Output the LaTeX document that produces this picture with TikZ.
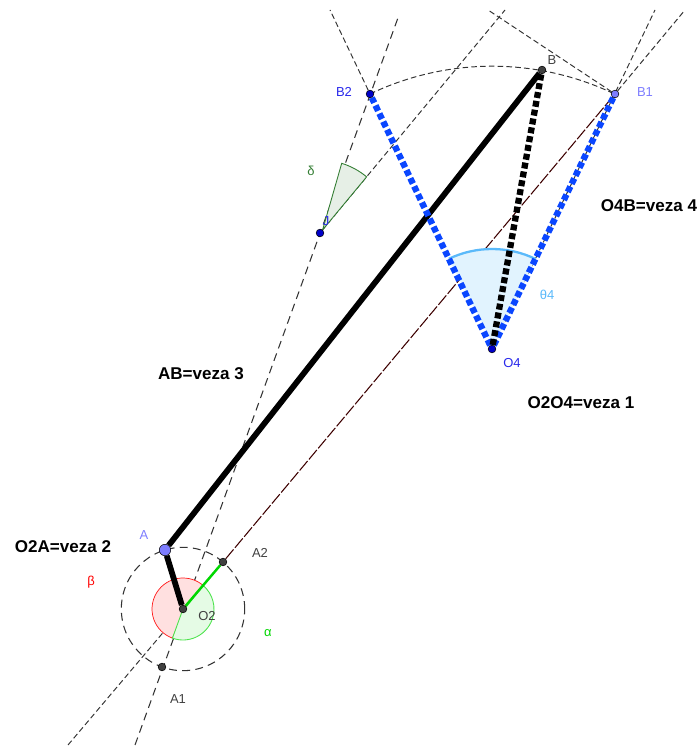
\documentclass[tikz,border=0pt]{standalone}
\usepackage{fontspec}
\setmainfont{Liberation Sans}
\usetikzlibrary{backgrounds}
\definecolor{ptgrey}{RGB}{64,64,64}
\definecolor{ptblue}{RGB}{0,0,200}
\definecolor{lblblue}{RGB}{40,40,235}
\definecolor{ptviolet}{RGB}{125,125,255}
\definecolor{barblue}{RGB}{10,70,255}
\definecolor{thetablue}{RGB}{90,185,250}
\definecolor{deltagreen}{RGB}{50,125,50}
\definecolor{alphagreen}{RGB}{0,215,0}
\tikzset{
  pt/.style={circle,draw=black,line width=0.3pt,fill=#1,inner sep=0pt,minimum size=4.4pt},
  lbl/.style={font=\fontsize{7.4}{8}\selectfont,inner sep=0pt,text=#1},
  veza/.style={font=\fontsize{9.7}{11}\bfseries\selectfont,inner sep=0pt},
  guide/.style={draw=black!80,line width=0.55pt,dash pattern=on 3.2pt off 1.8pt},
  longguide/.style={draw=black!80,line width=0.6pt,dash pattern=on 4.5pt off 3pt},
  barthick/.style={draw=black,line width=3.3pt},
  bardot/.style={draw=#1,line width=3.6pt,dash pattern=on 3.4pt off 1.7pt}
}
\begin{document}
\begin{tikzpicture}[x=0.02cm,y=0.02cm]
\useasboundingbox (0,0) rectangle (699,749);

\node[pt=ptgrey] (O2) at (183,140) {};
\node[pt=ptviolet,minimum size=6.5pt] (A) at (165,199) {};
\node[pt=ptgrey] (A1) at (162,82) {};
\node[pt=ptgrey] (A2) at (223,187) {};
\node[pt=ptgrey] (B) at (542,679) {};
\node[pt=ptviolet] (B1) at (615,655) {};
\node[pt=ptblue] (B2) at (370,655) {};
\node[pt=ptblue] (O4) at (492,400) {};
\node[pt=ptblue] (J) at (320,516) {};

\coordinate (A1end) at (135,4);
\coordinate (B2up) at (399,734);
\coordinate (O2end) at (68,4);
\coordinate (B1up) at (685,739);
\coordinate (O4up) at (655,739);
\coordinate (B2left) at (330,739);
\coordinate (Jup) at (505,739);
\coordinate (B1left) at (488,739);

\node[lbl=ptviolet] (lA) at (144,214) {A};
\node[lbl=ptgrey] (lB) at (552,689) {B};
\node[lbl=ptviolet] (lB1) at (645,657) {B1};
\node[lbl=lblblue] (lB2) at (344,657) {B2};
\node[lbl=lblblue] (lJ) at (326,528) {J};
\node[lbl=lblblue] (lO4) at (512,386) {O4};
\node[lbl=ptgrey] (lO2) at (207,133) {O2};
\node[lbl=ptgrey] (lA1) at (178,50) {A1};
\node[lbl=ptgrey] (lA2) at (260,196) {A2};
\node[lbl=red] (lbeta) at (91,167) {β};
\node[lbl=alphagreen] (lalpha) at (268,116) {α};
\node[lbl=deltagreen] (ldelta) at (311,578) {δ};
\node[lbl=thetablue] (ltheta) at (547,454) {θ4};

\node[veza] (v1) at (581,346) {O2O4=veza 1};
\node[veza] (v2) at (63,202) {O2A=veza 2};
\node[veza] (v3) at (201,375) {AB=veza 3};
\node[veza] (v4) at (649,543) {O4B=veza 4};

\begin{scope}[on background layer]
\draw[longguide] (A1end) -- (B2up);
\draw[guide] (O2end) -- (O2);
\draw[guide] (B1) -- (B1up);
\draw[guide] (O4) -- (O4up);
\draw[guide] (B2) -- (B2left);
\draw[guide] (J) -- (Jup);
\draw[guide] (B1) -- (B1left);
\draw[guide] (B2) arc[start angle=115.6,end angle=64.2,radius=5.66cm];
\draw[longguide] (O2) ++(0:1.234cm) arc[start angle=0,end angle=360,radius=1.234cm];
\draw[draw=black!70!red!80!black,line width=0.6pt,dash pattern=on 7pt off 1.2pt] (A2) -- (B1);

\filldraw[draw=red!90,line width=0.4pt,fill=red!12] (O2) -- ++(49.6:0.62cm) arc[start angle=49.6,end angle=250.1,radius=0.62cm] -- cycle;
\filldraw[draw=alphagreen!70,line width=0.5pt,fill=alphagreen!10] (O2) -- ++(-109.9:0.62cm) arc[start angle=-109.9,end angle=49.6,radius=0.62cm] -- cycle;
\filldraw[draw=deltagreen,line width=0.5pt,fill=deltagreen!12] (J) -- ++(50.3:1.46cm) arc[start angle=50.3,end angle=72.7,radius=1.46cm] -- cycle;
\fill[thetablue!18] (O4) -- ++(64.2:2cm) arc[start angle=64.2,end angle=115.6,radius=2cm] -- cycle;
\draw[thetablue,line width=1.3pt] (O4) ++(64.2:2cm) arc[start angle=64.2,end angle=115.6,radius=2cm];

\draw[draw=alphagreen,line width=1.4pt] (O2) -- (A2);
\draw[barthick] (A) -- (B);
\draw[barthick] (O2) -- (A);
\draw[bardot=barblue] (O4) -- (B1);
\draw[bardot=barblue] (O4) -- (B2);
\draw[bardot=black] (O4) -- (B);
\end{scope}
\end{tikzpicture}
\end{document}
